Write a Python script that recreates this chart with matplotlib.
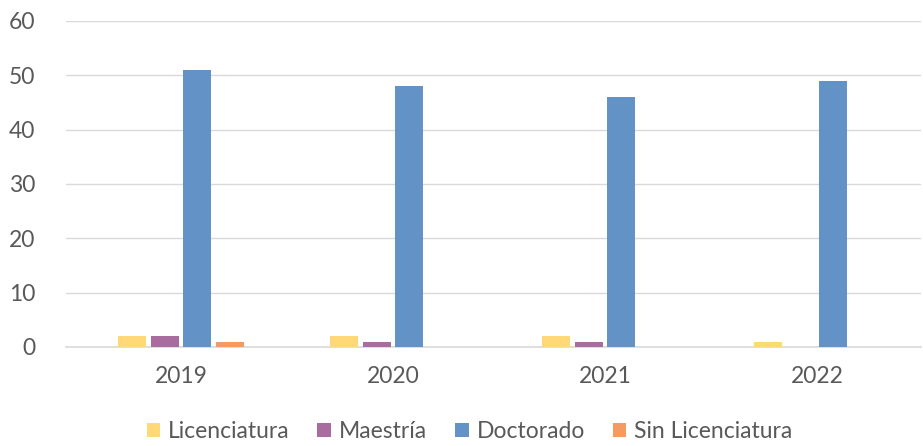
import numpy as np
import matplotlib.pyplot as plt

plt.rcParams['font.family'] = ['Lato', 'DejaVu Sans']

years = ['2019', '2020', '2021', '2022']
series = ['Licenciatura', 'Maestría', 'Doctorado', 'Sin Licenciatura']
licenciatura = [2, 2, 2, 1]
maestria = [2, 1, 1, 0]
doctorado = [51, 48, 46, 49]
sin_licenciatura = [1, 0, 0, 0]
colors = ['#FFD878', '#A86C9E', '#6392C6', '#F59B62']

values = [licenciatura, maestria, doctorado, sin_licenciatura]

fig = plt.figure(figsize=(9.23, 4.46), dpi=100)
ax = fig.add_axes([0.0715, 0.222, 0.9263, 0.731])

x = np.arange(len(years))
step = 0.154
width = 0.132
for i, (name, vals, c) in enumerate(zip(series, values, colors)):
    ax.bar(x + (i - 1.5) * step, vals, width, color=c, label=name, zorder=3)

ax.set_xlim(-0.543, 3.49)
ax.set_ylim(0, 60)
ax.set_yticks(range(0, 61, 10))
ax.set_xticks(x)
ax.set_xticklabels(years)
ax.yaxis.grid(True, color='#D9D9D9', linewidth=1, zorder=0)
for s in ['top', 'right', 'left']:
    ax.spines[s].set_visible(False)
ax.spines['bottom'].set_color('#D9D9D9')
ax.spines['bottom'].set_linewidth(1.2)
ax.tick_params(axis='both', length=0, labelsize=16.5, colors='#595959')
ax.tick_params(axis='x', pad=14)
ax.tick_params(axis='y', pad=22)

leg = ax.legend(loc='center', bbox_to_anchor=(0.472, -0.26), ncol=4, frameon=False,
                fontsize=16.5, handlelength=0.6, handleheight=0.6, handletextpad=0.35,
                columnspacing=1.2)
for t in leg.get_texts():
    t.set_color('#595959')

fig.savefig('out.png', dpi=100)
